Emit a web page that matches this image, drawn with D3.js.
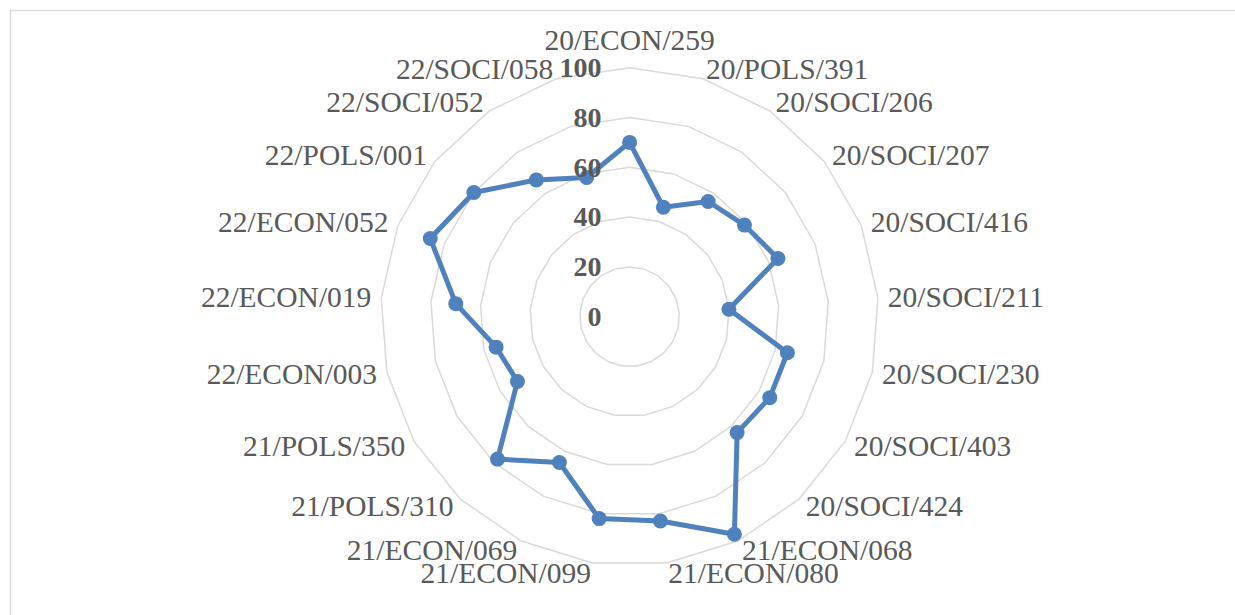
<!DOCTYPE html>
<html>
<head>
<meta charset="utf-8">
<script src="https://cdn.jsdelivr.net/npm/d3@7"></script>
<style>
  html, body { margin: 0; padding: 0; background: #ffffff; }
  svg { display: block; }
</style>
</head>
<body>
<svg id="chart" width="1235" height="615"></svg>
<script>
// Course codes, clockwise from the top
const categories = [
  "20/ECON/259", "20/POLS/391", "20/SOCI/206", "20/SOCI/207", "20/SOCI/416",
  "20/SOCI/211", "20/SOCI/230", "20/SOCI/403", "20/SOCI/424", "21/ECON/068",
  "21/ECON/080", "21/ECON/099", "21/ECON/069", "21/POLS/310", "21/POLS/350",
  "22/ECON/003", "22/ECON/019", "22/ECON/052", "22/POLS/001", "22/SOCI/052",
  "22/SOCI/058"
];
// Score for each course
const values = [70, 46, 56, 59, 64, 40, 65, 65, 63.5, 97, 83, 82, 65, 78, 52, 55, 70, 86, 80, 66.5, 58.5];
// Radial axis ticks
const tickValues = [0, 20, 40, 60, 80, 100];

const svg = d3.select("#chart");
const W = 1235, H = 615;
const cx = 629.6, cy = 316.7, R = 249;
const labelFont = "'Liberation Serif', 'Times New Roman', serif";
const textColor = "#595959";

// Chart area border
svg.append("rect")
  .attr("x", 10.5).attr("y", 10.5)
  .attr("width", W + 10).attr("height", H + 10)
  .attr("fill", "none")
  .attr("stroke", "#d9d9d9")
  .attr("stroke-width", 1.5);

const n = categories.length;
const angle = d3.scaleLinear().domain([0, n]).range([0, 2 * Math.PI]);
const radius = d3.scaleLinear().domain([0, 100]).range([0, R]);

const g = svg.append("g").attr("transform", `translate(${cx},${cy})`);

// Polygonal grid rings
const ringLine = d3.lineRadial()
  .angle((d, i) => angle(i))
  .radius(d => d)
  .curve(d3.curveLinearClosed);

g.append("g").selectAll("path")
  .data(tickValues.filter(v => v > 0))
  .join("path")
  .attr("d", v => ringLine(d3.range(n).map(() => radius(v))))
  .attr("fill", "none")
  .attr("stroke", "#d9d9d9")
  .attr("stroke-width", 1.5);

// Data series
const seriesLine = d3.lineRadial()
  .angle((d, i) => angle(i))
  .radius(d => radius(d))
  .curve(d3.curveLinearClosed);

g.append("path")
  .attr("d", seriesLine(values))
  .attr("fill", "none")
  .attr("stroke", "#4f81bd")
  .attr("stroke-width", 5)
  .attr("stroke-linejoin", "round");

g.append("g").selectAll("circle")
  .data(values)
  .join("circle")
  .attr("cx", (d, i) => radius(d) * Math.sin(angle(i)))
  .attr("cy", (d, i) => -radius(d) * Math.cos(angle(i)))
  .attr("r", 7.5)
  .attr("fill", "#4f81bd");

// Radial tick labels
g.append("g").selectAll("text")
  .data(tickValues)
  .join("text")
  .attr("x", -28)
  .attr("y", v => -radius(v))
  .attr("dy", "0.33em")
  .attr("text-anchor", "end")
  .attr("font-family", labelFont)
  .attr("font-weight", "bold")
  .attr("font-size", "28px")
  .attr("fill", textColor)
  .text(v => v);

// Category labels around the outside
const labelR = R + 10;
g.append("g").selectAll("text")
  .data(categories)
  .join("text")
  .each(function (d, i) {
    const a = angle(i);
    const s = Math.sin(a), c = Math.cos(a);
    const t = d3.select(this);
    if (Math.abs(s) < 1e-6) {
      t.attr("x", 0).attr("y", -(labelR + 17)).attr("text-anchor", "middle");
    } else {
      t.attr("x", labelR * s).attr("y", -labelR * c)
       .attr("text-anchor", s > 0 ? "start" : "end");
    }
  })
  .attr("dy", "0.33em")
  .attr("font-family", labelFont)
  .attr("font-size", "29.5px")
  .attr("fill", textColor)
  .text(d => d);
</script>
</body>
</html>
